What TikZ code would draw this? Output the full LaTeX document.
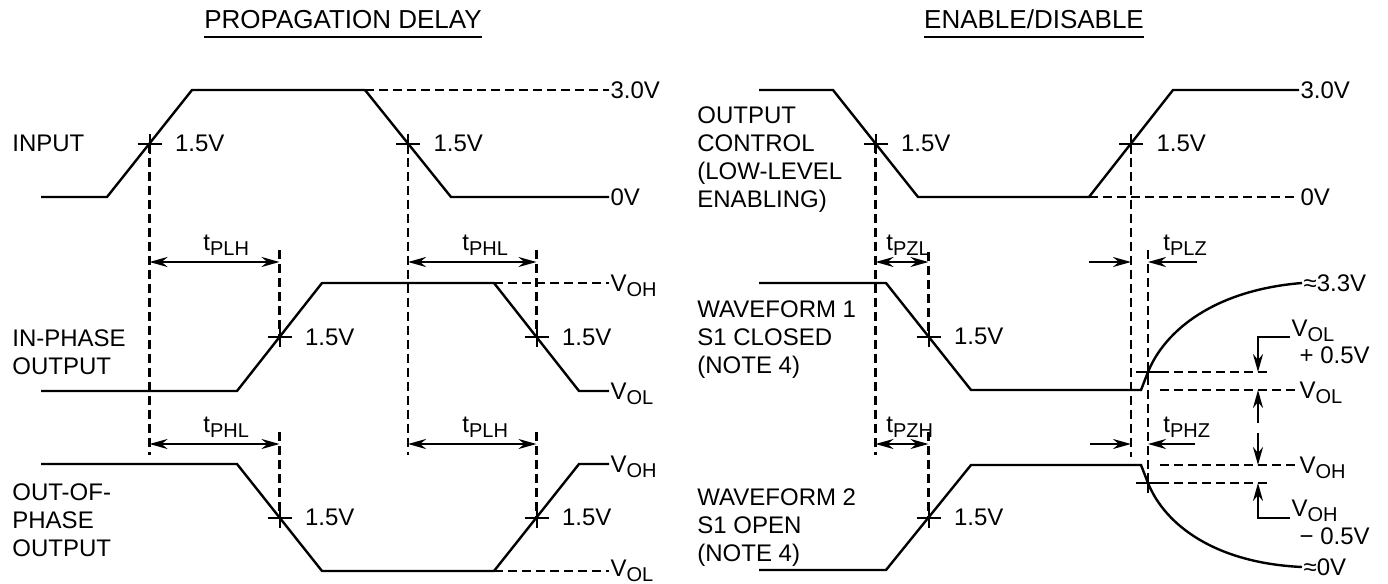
\documentclass[tikz,border=0pt]{standalone}
\usepackage{fontspec}
\setmainfont{Liberation Sans}
\usetikzlibrary{arrows.meta}
\newcommand\subs[1]{\raisebox{-2.5pt}{\fontsize{10}{10}\selectfont #1}}

\begin{document}
\begin{tikzpicture}[x=0.5pt, y=-0.5pt,
    wave/.style={line width=1.2pt},
    guide/.style={line width=1.1pt, dash pattern=on 4.5pt off 2.5pt},
    dim/.style={line width=1.1pt, {Stealth[length=9pt,width=5pt]}-{Stealth[length=9pt,width=5pt]}},
    pointer/.style={line width=1.1pt, -{Stealth[length=9pt,width=5pt]}},
    tag/.style={font=\fontsize{12}{14}\selectfont, align=left, anchor=west, inner sep=0pt},
    level/.style={font=\fontsize{12}{14}\selectfont, anchor=base west, yshift=-4.2pt, inner sep=0.6pt},
    delay/.style={font=\fontsize{12}{14}\selectfont, anchor=base west, inner sep=0pt},
    heading/.style={font=\fontsize{13}{15}\selectfont, anchor=base, inner sep=0pt},
    xing/.pic={\draw[line width=1pt] (-12,0) -- (12,0) (0,-10) -- (0,10);}
]
\useasboundingbox (0,0) rectangle (1388,584);

% headings
\node[heading] (ttlpd) at (343,28) {PROPAGATION DELAY};
\node[heading] (ttled) at (1034,28) {ENABLE/DISABLE};
\foreach \t in {ttlpd,ttled}
  \draw[line width=0.9pt] ([yshift=-4.5pt]\t.base west) -- ([yshift=-4.5pt]\t.base east);

% signal names
\node[tag] (lin) at (12,143) {INPUT};
\node[tag] (lip) at (12,352) {IN-PHASE\\OUTPUT};
\node[tag] (lop) at (12,520) {OUT-OF-\\PHASE\\OUTPUT};
\node[tag] (loc) at (697,160) {OUTPUT\\CONTROL\\(LOW-LEVEL\\ENABLING)};
\node[tag] (lw1) at (697,340) {WAVEFORM 1\\S1 CLOSED\\(NOTE 4)};
\node[tag] (lw2) at (697,528) {WAVEFORM 2\\S1 OPEN\\(NOTE 4)};

% 1.5V crossing points
\coordinate (in1) at (149.5,143.5);
\coordinate (in2) at (408,143.5);
\coordinate (ip1) at (279.5,337);
\coordinate (ip2) at (536.5,337);
\coordinate (op1) at (279.5,517.5);
\coordinate (op2) at (536.5,517.5);
\coordinate (oc1) at (875.5,143.5);
\coordinate (oc2) at (1131,143.5);
\coordinate (w1a) at (928.5,336.5);
\coordinate (w1b) at (1148,372);
\coordinate (w2a) at (928.5,517.5);
\coordinate (w2b) at (1148,483);

% propagation delay waveforms
\draw[wave] (41,197) -- (107,197) -- (192,90) -- (365,90) -- (451,197) -- (609,197);
\draw[guide] (365,90) -- (609,90);
\node[level] (l30a) at (609,90) {3.0V};
\node[level] (l0a) at (609,197) {0V};

\draw[wave] (41,391) -- (237,391) -- (322,283) -- (494,283) -- (579,391) -- (609,391);
\draw[guide] (494,283) -- (609,283);
\node[level] (lohip) at (609,283) {V\subs{OH}};
\node[level] (lolip) at (609,391) {V\subs{OL}};

\draw[wave] (41,464) -- (237,464) -- (322,571) -- (494,571) -- (579,464) -- (609,464);
\draw[guide] (494,571) -- (609,571);
\node[level] (lohop) at (609,464) {V\subs{OH}};
\node[level] (lolop) at (609,568) {V\subs{OL}};

\draw[guide] (in1) -- (in1 |- 0,455);
\draw[guide] (in2) -- (in2 |- 0,455);
\draw[guide] (ip1 |- 0,250) -- (ip1);
\draw[guide] (ip2 |- 0,250) -- (ip2);
\draw[guide] (op1 |- 0,432) -- (op1);
\draw[guide] (op2 |- 0,432) -- (op2);

\draw[dim] (in1 |- 0,262) -- (ip1 |- 0,262);
\draw[dim] (in2 |- 0,262) -- (ip2 |- 0,262);
\draw[dim] (in1 |- 0,444) -- (op1 |- 0,444);
\draw[dim] (in2 |- 0,444) -- (op2 |- 0,444);
\node[delay] (tplh1) at (203,250) {t\subs{PLH}};
\node[delay] (tphl1) at (462,250) {t\subs{PHL}};
\node[delay] (tphl2) at (203,432) {t\subs{PHL}};
\node[delay] (tplh2) at (462,432) {t\subs{PLH}};

% enable/disable waveforms
\draw[wave] (759,90) -- (833,90) -- (918,197) -- (1089,197) -- (1173,90) -- (1299,90);
\draw[guide] (1089,197) -- (1299,197);
\node[level] (l30b) at (1299,90) {3.0V};
\node[level] (l0b) at (1299,197) {0V};

\draw[wave] (759,283) -- (886,283) -- (971,390) -- (1141,390) -- (w1b)
  .. controls (1165,330) and (1215,290) .. (1302,283);
\draw[wave] (759,570) -- (886,570) -- (971,465) -- (1141,465) -- (w2b)
  .. controls (1165,525) and (1215,563) .. (1302,567);
\node[level] (l33) at (1302,283) {≈3.3V};
\node[level] (l00) at (1302,567) {≈0V};

\draw[guide] (oc1) -- (oc1 |- 0,455);
\draw[guide] (oc2) -- (oc2 |- 0,457);
\draw[guide] (w1a |- 0,252) -- (w1a);
\draw[guide] (w2a |- 0,432) -- (w2a);
\draw[guide] (w1b |- 0,250) -- (w2b);

\draw[dim] (oc1 |- 0,262) -- (w1a |- 0,262);
\draw[dim] (oc1 |- 0,444) -- (w2a |- 0,444);
\draw[pointer] (1089,262) -- (oc2 |- 0,262);
\draw[pointer] (1197,262) -- (w1b |- 0,262);
\draw[pointer] (1090,444) -- (oc2 |- 0,444);
\draw[pointer] (1195,444) -- (w2b |- 0,444);
\node[delay] (tpzl) at (886,250) {t\subs{PZL}};
\node[delay] (tplz) at (1163,250) {t\subs{PLZ}};
\node[delay] (tpzh) at (886,432) {t\subs{PZH}};
\node[delay] (tphz) at (1163,432) {t\subs{PHZ}};

% output levels and offsets
\draw[guide] (1160,372) -- (1270,372);
\draw[guide] (1160,390) -- (1298,390);
\draw[guide] (1160,465) -- (1298,465);
\draw[guide] (1160,483) -- (1270,483);
\node[level] (lolw) at (1298,390) {V\subs{OL}};
\node[level] (lohw) at (1298,465) {V\subs{OH}};

\draw[pointer] (1290,337) -- (1258,337) -- (1258,372);
\draw[pointer] (1258,423) -- (1258,390);
\draw[pointer] (1258,433) -- (1258,465);
\draw[pointer] (1290,518) -- (1258,518) -- (1258,483);
\node[level] (lolp) at (1290,328) {V\subs{OL}};
\node[level] (lolp5) at (1298,355) {+ 0.5V};
\node[level] (lohm) at (1290,508) {V\subs{OH}};
\node[level] (lohm5) at (1298,536) {− 0.5V};

% crossing marks
\foreach \p in {in1,in2,ip1,ip2,op1,op2,oc1,oc2,w1a,w1b,w2a,w2b}
  \pic at (\p) {xing};
\foreach \p in {in1,in2,ip1,ip2,op1,op2,oc1,oc2,w1a,w2a}
  \node[level, xshift=12pt] (v\p) at (\p) {1.5V};
\end{tikzpicture}
\end{document}
